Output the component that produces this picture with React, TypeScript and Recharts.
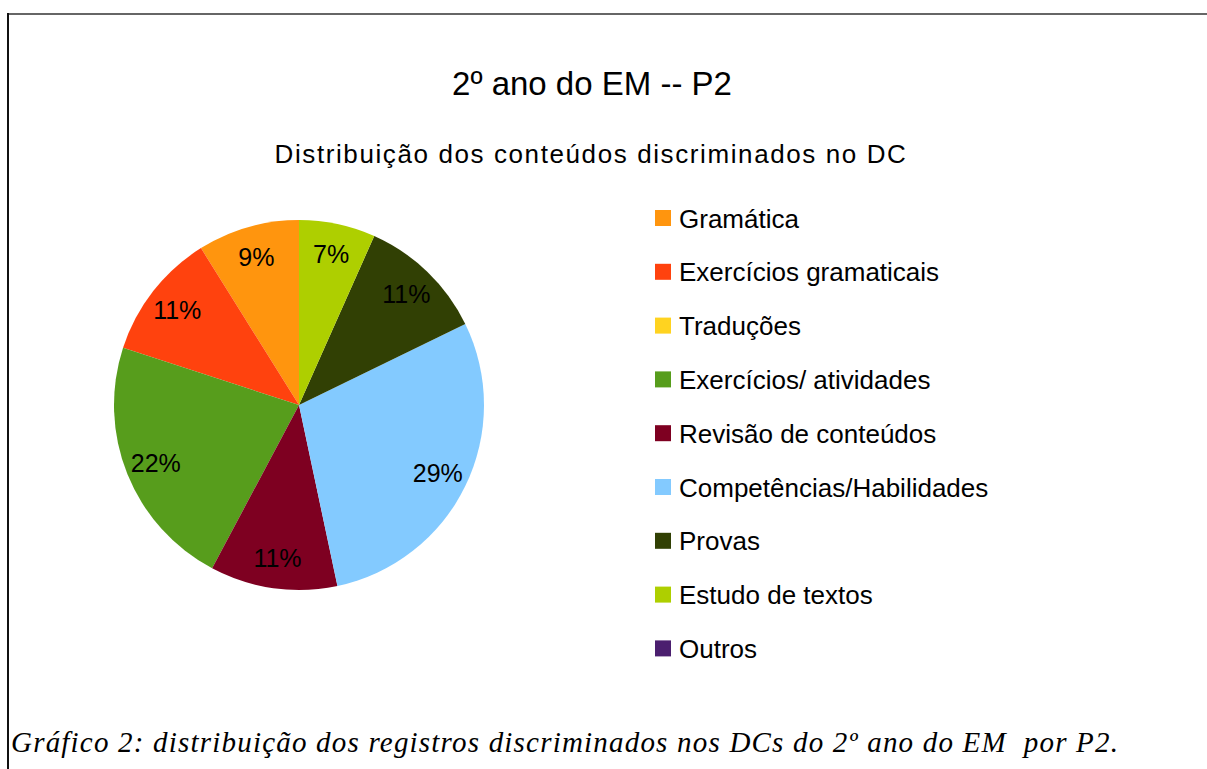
import { PieChart, Pie, Cell, Legend } from 'recharts';

const categories = [
  'Gramática',
  'Exercícios gramaticais',
  'Traduções',
  'Exercícios/ atividades',
  'Revisão de conteúdos',
  'Competências/Habilidades',
  'Provas',
  'Estudo de textos',
  'Outros',
];
const counts = [4, 5, 0, 10, 5, 13, 5, 3, 0];
const colors = ['#ff950e', '#ff420e', '#ffd320', '#579d1c', '#7e0021', '#83caff', '#314004', '#aecf00', '#4b1f6f'];

const chartTitle = '2º ano do EM -- P2';
const chartSubtitle = 'Distribuição dos conteúdos discriminados no DC';
const caption = 'Gráfico 2: distribuição dos registros discriminados nos DCs do 2º ano do EM  por P2.';

const data = categories.map((name, i) => ({ name, value: counts[i] }));

const FONT = '"Liberation Sans", Arial, sans-serif';
const RAD = Math.PI / 180;

// percentage inside each slice, skipped for empty categories
const renderLabel = (props: any) => {
  const { cx, cy, midAngle, outerRadius, percent } = props;
  if (!percent) return null;
  const r = outerRadius * 0.835;
  const x = cx + r * Math.cos(-midAngle * RAD);
  const y = cy + r * Math.sin(-midAngle * RAD);
  return (
    <text x={x} y={y} fill="#000" fontSize={25} fontFamily={FONT} textAnchor="middle" dominantBaseline="central">
      {`${Math.round(percent * 100)}%`}
    </text>
  );
};

const LegendContent = () => (
  <svg width={400} height={500} style={{ display: 'block' }}>
    {categories.map((name, i) => (
      <g key={name} transform={`translate(0, ${i * 53.8})`}>
        <rect x={0} y={10} width={16} height={16} fill={colors[i]} />
        <text x={24} y={27.5} fontFamily={FONT} fontSize={26} fill="#000">
          {name}
        </text>
      </g>
    ))}
  </svg>
);

export default function App() {
  return (
    <div style={{ position: 'absolute', left: 0, top: 0, width: 1207, height: 769, background: '#fff', overflow: 'hidden' }}>
      {/* frame */}
      <div style={{ position: 'absolute', left: 7, top: 13, width: 1200, height: 2, background: '#666' }} />
      <div style={{ position: 'absolute', left: 7, top: 13, width: 2, height: 756, background: '#111' }} />
      <div style={{ position: 'absolute', left: 0, top: 0 }}>
        <PieChart width={1207} height={700} margin={{ top: 0, right: 0, bottom: 0, left: 0 }}>
          <text x={592} y={95} textAnchor="middle" fontFamily={FONT} fontSize={33} fill="#000">
            {chartTitle}
          </text>
          <text x={591} y={163} textAnchor="middle" fontFamily={FONT} fontSize={26} letterSpacing={1.6} fill="#000">
            {chartSubtitle}
          </text>
          <Pie
            data={data}
            dataKey="value"
            nameKey="name"
            cx={299}
            cy={405}
            outerRadius={185}
            startAngle={90}
            endAngle={450}
            stroke="none"
            label={renderLabel}
            labelLine={false}
            isAnimationActive={false}
          >
            {data.map((entry, index) => (
              <Cell key={`cell-${index}`} fill={colors[index]} />
            ))}
          </Pie>
          <Legend
            content={<LegendContent />}
            layout="vertical"
            wrapperStyle={{ position: 'absolute', left: 655, top: 200, width: 400, bottom: 'auto', right: 'auto' }}
          />
        </PieChart>
      </div>
      <svg width={1207} height={769} style={{ position: 'absolute', left: 0, top: 0, pointerEvents: 'none' }}>
        <text
          x={11}
          y={752}
          fontFamily='"Liberation Serif", "Times New Roman", serif'
          fontStyle="italic"
          fontSize={29}
          letterSpacing={1.2}
          fill="#000"
          style={{ whiteSpace: 'pre' }}
        >
          {caption}
        </text>
      </svg>
    </div>
  );
}
